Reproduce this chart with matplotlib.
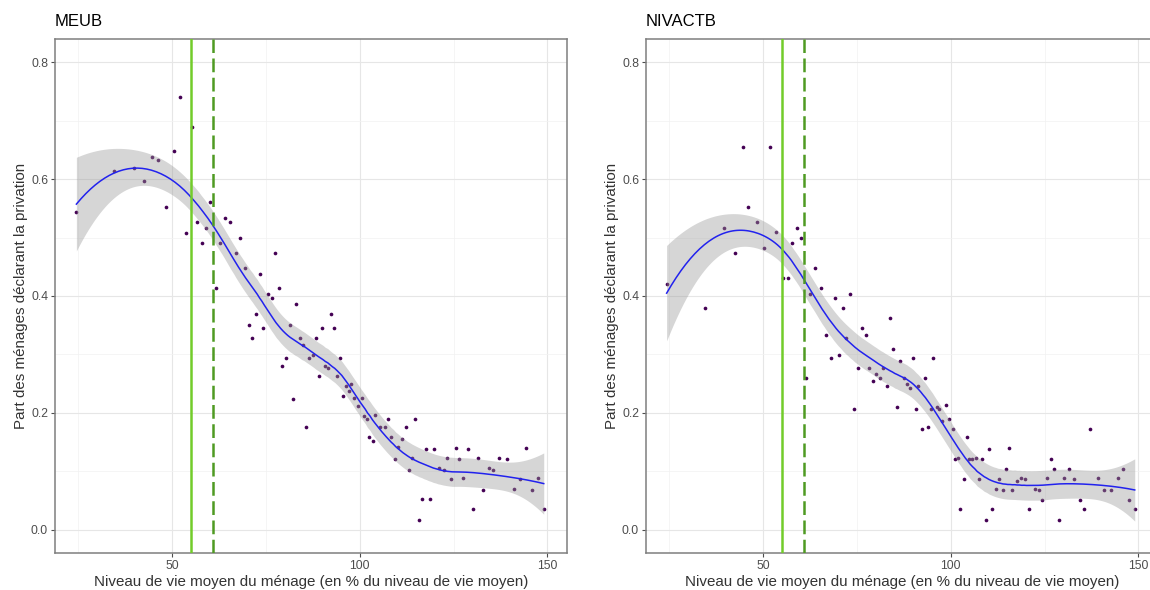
import numpy as np
import matplotlib.pyplot as plt

# MEUB panel, points
meub_x = [24.5, 34.5, 39.8, 42.6, 44.7, 46.3, 48.5, 50.4, 52.1, 53.7, 55.3, 56.7, 57.9, 59.1,
          60.2, 61.6, 62.7, 64.1, 65.4, 66.9, 68.2, 69.3, 70.4, 71.4, 72.4, 73.4, 74.3, 75.5,
          76.7, 77.5, 78.5, 79.4, 80.4, 81.4, 82.1, 83.1, 84.1, 84.9, 85.7, 86.6, 87.4, 88.2,
          89.1, 90.0, 90.7, 91.5, 92.4, 93.1, 93.9, 94.7, 95.4, 96.2, 97.0, 97.7, 98.5, 99.5,
          100.5, 101.0, 101.8, 102.5, 103.5, 104.1, 105.4, 106.6, 107.5, 108.4, 109.3, 110.3,
          111.3, 112.3, 113.0, 113.9, 114.7, 115.7, 116.7, 117.6, 118.6, 119.9, 121.1, 122.3,
          123.3, 124.3, 125.5, 126.5, 127.5, 128.7, 130.1, 131.4, 132.8, 134.3, 135.6, 137.1,
          139.2, 141.0, 142.6, 144.3, 145.8, 147.4, 149.0]
meub_y = [0.544, 0.614, 0.620, 0.597, 0.638, 0.632, 0.552, 0.649, 0.741, 0.508, 0.690, 0.526,
          0.491, 0.517, 0.561, 0.414, 0.491, 0.534, 0.526, 0.474, 0.500, 0.448, 0.351, 0.328,
          0.369, 0.438, 0.345, 0.403, 0.396, 0.473, 0.414, 0.280, 0.293, 0.351, 0.224, 0.386,
          0.328, 0.316, 0.175, 0.293, 0.299, 0.328, 0.263, 0.345, 0.280, 0.276, 0.369, 0.345,
          0.263, 0.293, 0.228, 0.246, 0.237, 0.250, 0.225, 0.211, 0.225, 0.194, 0.190, 0.158,
          0.152, 0.197, 0.175, 0.175, 0.189, 0.158, 0.121, 0.141, 0.155, 0.175, 0.102, 0.122,
          0.189, 0.017, 0.052, 0.138, 0.052, 0.138, 0.105, 0.102, 0.122, 0.086, 0.140, 0.121,
          0.088, 0.138, 0.035, 0.122, 0.068, 0.105, 0.102, 0.122, 0.121, 0.069, 0.086, 0.140,
          0.068, 0.088, 0.035]

# NIVACTB panel
niv_x = [24.3, 34.4, 39.7, 42.5, 44.6, 46.0, 48.3, 50.3, 51.9, 53.5, 55.3, 56.5, 57.8, 59.1,
         60.0, 61.3, 62.6, 63.9, 65.3, 66.8, 68.1, 69.2, 70.2, 71.2, 72.2, 73.2, 74.3, 75.4,
         76.4, 77.4, 78.3, 79.3, 80.2, 81.2, 82.0, 83.0, 83.9, 84.7, 85.6, 86.4, 87.4, 88.2,
         89.0, 89.8, 90.6, 91.3, 92.2, 93.0, 93.8, 94.6, 95.3, 96.2, 96.9, 97.6, 98.6, 99.4,
         100.5, 101.2, 101.8, 102.4, 103.4, 104.2, 104.9, 105.7, 106.6, 107.4, 108.3, 109.3,
         110.2, 111.1, 112.1, 112.9, 113.8, 114.7, 115.5, 116.4, 117.6, 118.6, 119.7, 120.9,
         122.3, 123.4, 124.3, 125.5, 126.6, 127.5, 128.8, 130.2, 131.4, 132.9, 134.4, 135.6,
         137.2, 139.2, 140.9, 142.7, 144.5, 145.8, 147.4, 149.0]
niv_y = [0.421, 0.379, 0.517, 0.473, 0.655, 0.552, 0.526, 0.483, 0.655, 0.509, 0.431, 0.431,
         0.491, 0.517, 0.500, 0.259, 0.403, 0.448, 0.414, 0.333, 0.293, 0.396, 0.299, 0.379,
         0.328, 0.403, 0.207, 0.276, 0.345, 0.333, 0.276, 0.254, 0.267, 0.259, 0.276, 0.246,
         0.362, 0.310, 0.210, 0.289, 0.259, 0.250, 0.242, 0.293, 0.207, 0.246, 0.172, 0.259,
         0.175, 0.207, 0.293, 0.210, 0.207, 0.186, 0.214, 0.189, 0.172, 0.121, 0.122, 0.035,
         0.086, 0.158, 0.121, 0.121, 0.122, 0.086, 0.121, 0.017, 0.138, 0.035, 0.069, 0.086,
         0.068, 0.103, 0.140, 0.068, 0.084, 0.089, 0.086, 0.035, 0.069, 0.068, 0.051, 0.088,
         0.121, 0.103, 0.017, 0.088, 0.103, 0.086, 0.051, 0.035, 0.172, 0.088, 0.068, 0.068,
         0.088, 0.103, 0.051, 0.035]

seuil_plein = 55.0
seuil_tirets = 61.0

panels = [("MEUB", meub_x, meub_y), ("NIVACTB", niv_x, niv_y)]

plt.rcParams['font.family'] = ['Liberation Sans', 'DejaVu Sans']


def loess(x, y, grid, span=0.45):
    # regression locale de degre 2, poids tricubes (comme loess de R)
    x = np.asarray(x, float)
    y = np.asarray(y, float)
    n = len(x)
    q = int(np.floor(span * n))

    def rows(points):
        L = np.zeros((len(points), n))
        for i, x0 in enumerate(points):
            d = np.abs(x - x0)
            h = np.sort(d)[q - 1]
            w = np.clip(1 - (d / h) ** 3, 0, None) ** 3
            X = np.column_stack([np.ones(n), x - x0, (x - x0) ** 2])
            W = X * w[:, None]
            L[i] = np.linalg.solve(X.T @ W, W.T)[0]
        return L

    L_obs = rows(x)
    resid = y - L_obs @ y
    sigma = np.sqrt(np.sum(resid ** 2) / (n - np.trace(L_obs)))
    L = rows(grid)
    fit = L @ y
    se = sigma * np.sqrt(np.sum(L ** 2, axis=1))
    return fit, se


fig = plt.figure(figsize=(11.5, 5.9), dpi=100)
positions = [[55 / 1150, 37 / 590, 512 / 1150, 514 / 590],
             [646 / 1150, 37 / 590, 512 / 1150, 514 / 590]]

for (nom, xs, ys), pos in zip(panels, positions):
    ax = fig.add_axes(pos)
    grid = np.linspace(min(xs), max(xs), 200)
    fit, se = loess(xs, ys, grid)
    t = 1.98

    ax.scatter(xs, ys, s=7, color='#440154', linewidths=0, zorder=3)
    ax.fill_between(grid, fit - t * se, fit + t * se, color='#999999', alpha=0.4,
                    linewidth=0, zorder=4)
    ax.plot(grid, fit, color='#2222ee', lw=1.1, zorder=5)
    ax.axvline(seuil_plein, color='#72cc2a', lw=1.8, zorder=6)
    ax.axvline(seuil_tirets, color='#4f9a22', lw=1.8, ls=(0, (5.5, 2.2)), zorder=6)

    ax.set_xlim(18.8, 155.2)
    ax.set_ylim(-0.04, 0.84)
    ax.set_xticks([50, 100, 150])
    ax.set_xticks([25, 75, 125], minor=True)
    ax.set_yticks([0.0, 0.2, 0.4, 0.6, 0.8])
    ax.set_yticks([0.1, 0.3, 0.5, 0.7], minor=True)
    ax.set_yticklabels(['0.0', '0.2', '0.4', '0.6', '0.8'])
    ax.grid(which='major', color='#e6e6e6', lw=0.8, zorder=0)
    ax.grid(which='minor', color='#f2f2f2', lw=0.5, zorder=0)
    ax.set_axisbelow(True)
    ax.tick_params(which='major', length=3, width=0.8, color='#4d4d4d',
                   labelsize=8.8, labelcolor='#4d4d4d', pad=2)
    ax.tick_params(which='minor', length=0)
    for sp in ax.spines.values():
        sp.set_color('#7f7f7f')
        sp.set_linewidth(1.1)

    ax.set_title(nom, loc='left', fontsize=12, pad=9)
    ax.set_xlabel('Niveau de vie moyen du ménage (en % du niveau de vie moyen)',
                  fontsize=10.9, color='#333333')
    ax.set_ylabel('Part des ménages déclarant la privation', fontsize=10.9, color='#333333')
    ax.xaxis.set_label_coords(0.5, -0.042)
    ax.yaxis.set_label_coords(-0.052, 0.5)

fig.savefig('out.png', dpi=100)
